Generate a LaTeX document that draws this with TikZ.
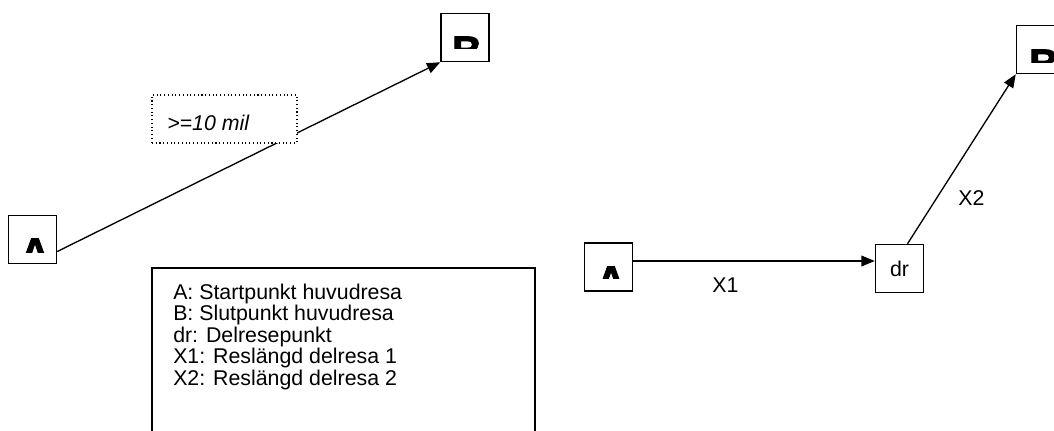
\documentclass[tikz,border=0pt]{standalone}
\usepackage{fontspec}
\setmainfont{Liberation Sans}
\newfontfamily\heavyfont[BoldFeatures={FakeBold=2}]{Liberation Sans}
\usetikzlibrary{arrows.meta,calc}
\begin{document}
\begin{tikzpicture}[x=0.75pt,y=-0.75pt,
  box/.style={draw,line width=1.1pt,minimum size=36pt,inner sep=0pt,fill=white},
  conn/.style={line width=1pt,-{Triangle[length=10pt,width=8pt]}},
  lbl/.style={font=\fontsize{16}{19}\selectfont,inner sep=0pt,anchor=base west},
  big/.style={font=\heavyfont\fontsize{31}{34}\selectfont\bfseries,inner sep=0pt,anchor=base}]
\useasboundingbox (0,0) rectangle (1054,430);

% ---- left: direct trip ----
\node[box] (A1) at (32.5,239.5) {};
\node[box] (B1) at (465,37.5) {};
\begin{scope}
  \clip (8,215) rectangle (57,252);
  \node[big] (A1t) at (35,267) {A};
\end{scope}
\begin{scope}
  \clip (441,13) rectangle (489,48);
  \node[big] (B1t) at (467,65) {B};
\end{scope}
\draw[conn] ($(A1.east)+(0,12)$) -- (B1.south west);

\node[draw,dotted,line width=0.8pt,fill=white,minimum width=108.75pt,minimum height=36pt,inner sep=0pt] (dist) at (224.5,119) {};
\node[lbl,font=\fontsize{16}{19}\selectfont\itshape] (distt) at (167,130) {>=10 mil};

% ---- legend ----
\draw[line width=1.1pt] (152,434) -- (152,268) -- (535,268) -- (535,434);
\node[lbl] (leg1) at (173,299) {A: Startpunkt huvudresa};
\node[lbl] (leg2) at (173,320.5) {B: Slutpunkt huvudresa};
\node[lbl] (leg3) at (173,342) {dr: Delresepunkt};
\node[lbl] (leg4) at (173,363.5) {X1: Reslängd delresa 1};
\node[lbl] (leg5) at (173,385) {X2: Reslängd delresa 2};

% ---- right: trip with intermediate point ----
\node[box] (A2) at (608.5,267) {};
\node[box,font=\fontsize{16}{19}\selectfont] (dr) at (899.5,268.5) {dr};
\node[box] (B2) at (1040.5,49.5) {};
\begin{scope}
  \clip (584,243) rectangle (633,278);
  \node[big] (A2t) at (611,295) {A};
\end{scope}
\begin{scope}
  \clip (1016,26) rectangle (1065,62);
  \node[big] (B2t) at (1044,78) {B};
\end{scope}
\coordinate (x1s) at ($(A2.east)+(0,-6)$);
\draw[conn] (x1s) -- (dr.west |- x1s);
\draw[conn] ($(dr.north)+(8,0)$) -- (B2.south west);
\node[lbl] (X1) at (712,292) {X1};
\node[lbl] (X2) at (958,205) {X2};
\end{tikzpicture}
\end{document}
